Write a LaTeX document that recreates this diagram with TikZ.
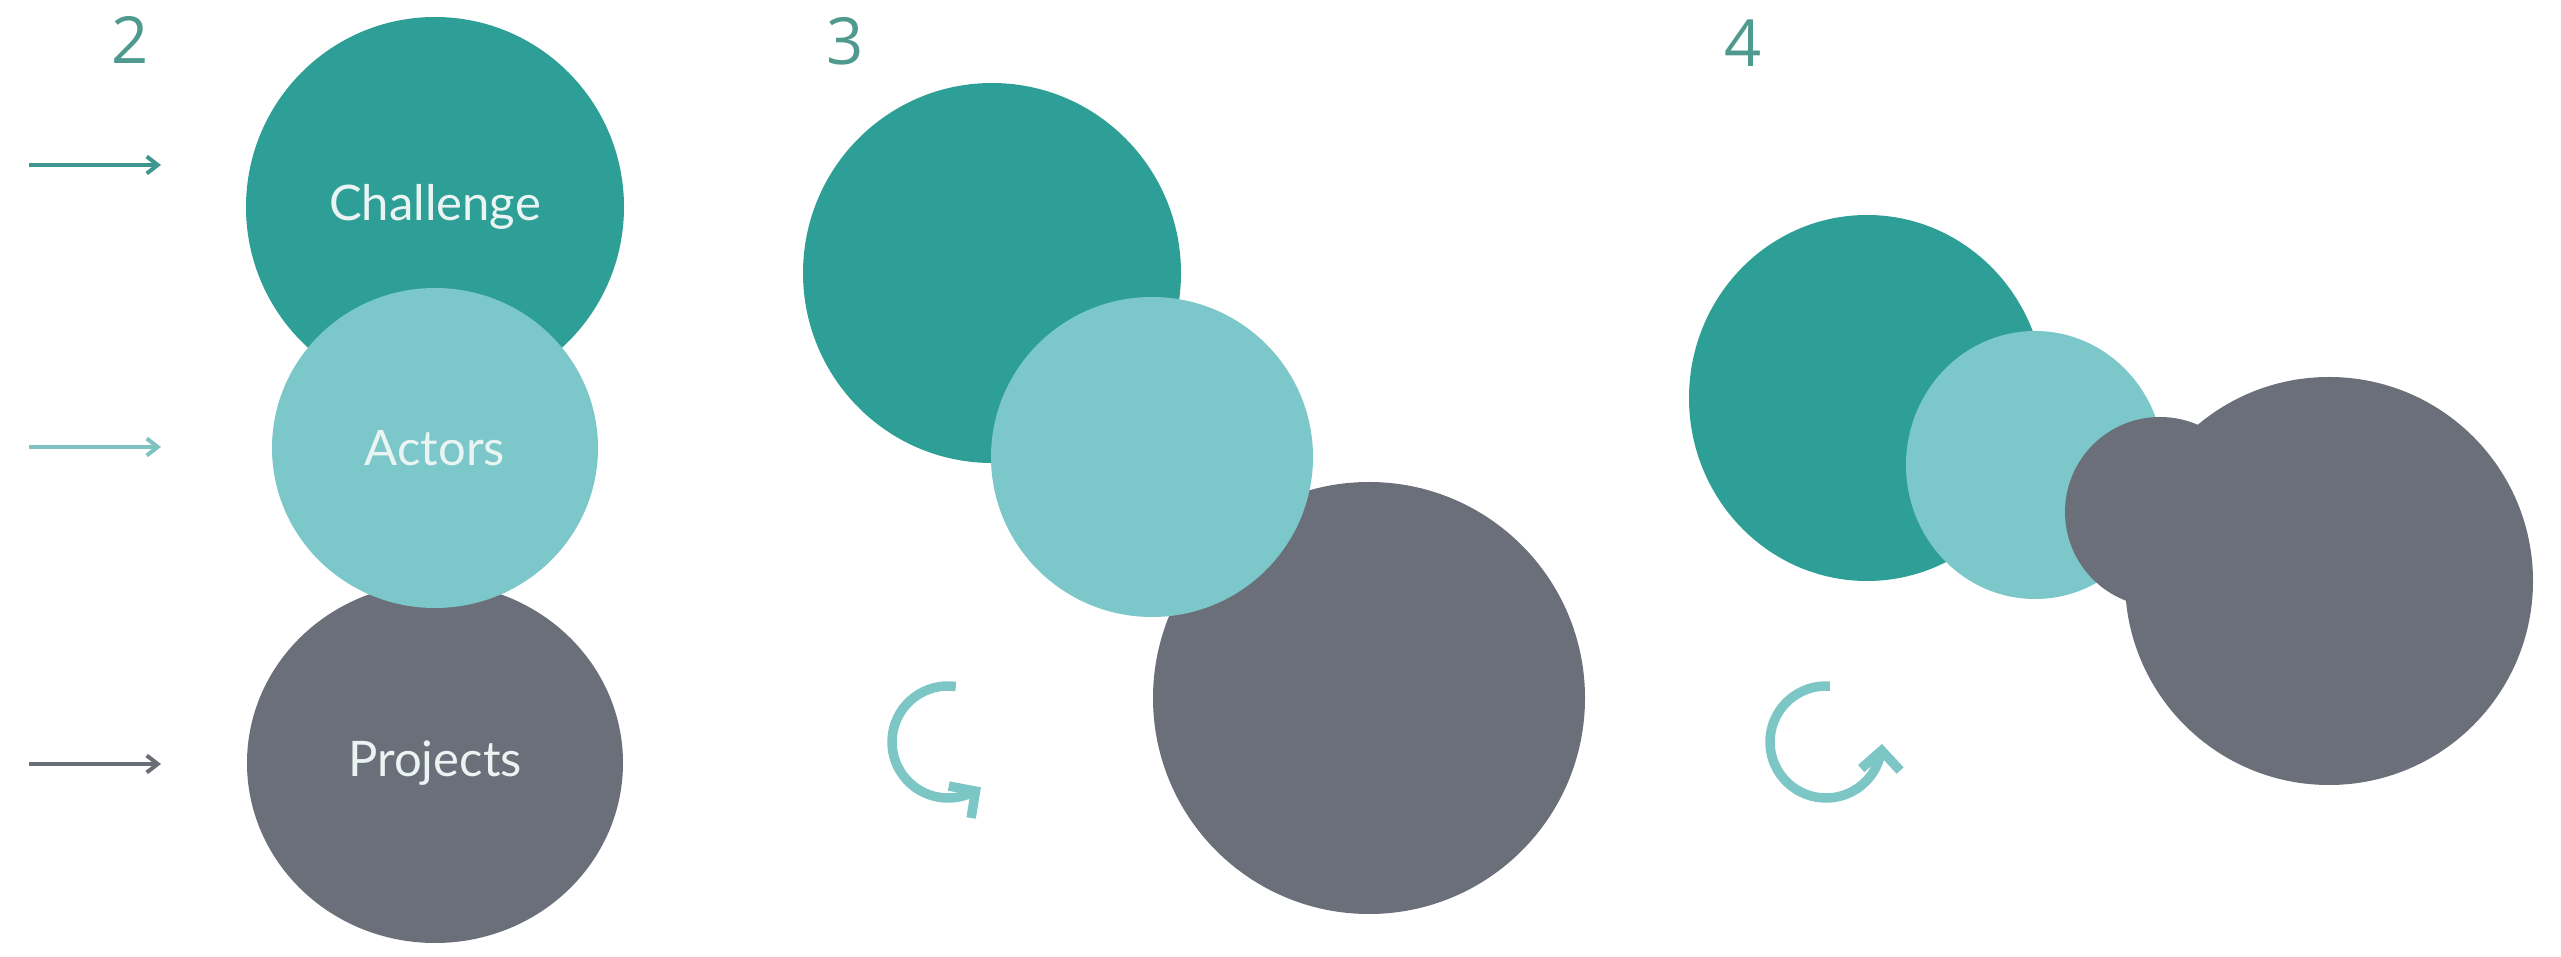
\documentclass[tikz,border=0pt]{standalone}
\usepackage{fontspec}
\setmainfont{Lato}
\newfontfamily\numfont{Open Sans}
\usetikzlibrary{shapes.geometric,arrows.meta,bending}
\definecolor{tealA}{HTML}{2E9F96}
\definecolor{tealB}{HTML}{7BC7C9}
\definecolor{grayC}{HTML}{6B6F79}
\definecolor{numc}{HTML}{4E9A8E}
\definecolor{arrA}{HTML}{3E968E}
\definecolor{arrB}{HTML}{7EC2C2}
\definecolor{arrC}{HTML}{6A6E76}
\definecolor{turnc}{HTML}{7CC6C6}
\definecolor{txt}{HTML}{EAF5F3}
\begin{document}
\begin{tikzpicture}[x=0.2pt,y=-0.2pt,
  blob/.style={ellipse, inner sep=0pt, outer sep=0pt, draw=none},
  lbl/.style={text=txt, font=\fontsize{9.8pt}{12pt}\selectfont},
  num/.style={text=numc, font=\numfont\fontsize{13pt}{15pt}\selectfont},
  ptr/.style={line width=0.8pt, -{Straight Barb[length=2.2pt,width=3.4pt]}},
  turn/.style={draw=turnc, line width=1.9pt, -{Straight Barb[length=3.8pt,width=7.8pt,flex]}}]
\useasboundingbox (0,0) rectangle (2561,957);

% numbers
\node[num] (n2) at (130,40) {2};
\node[num] (n3) at (845,41) {3};
\node[num] (n4) at (1743,43) {4};

% panel 2
\node[blob, fill=tealA, minimum width=75.6pt, minimum height=76pt, lbl] (ch2) at (435,207) {Challenge};
\node[blob, fill=grayC, minimum width=75.2pt, minimum height=72pt, lbl] (pr2) at (435,763) {Projects};
\node[blob, fill=tealB, minimum width=65.2pt, minimum height=64pt, lbl] (ac2) at (435,448) {Actors};

\coordinate (p1s) at (29,165);  \coordinate (p1e) at (161,165);
\coordinate (p2s) at (29,447);  \coordinate (p2e) at (161,447);
\coordinate (p3s) at (29,764);  \coordinate (p3e) at (161,764);
\draw[ptr, draw=arrA] (p1s) -- (p1e);
\draw[ptr, draw=arrB] (p2s) -- (p2e);
\draw[ptr, draw=arrC] (p3s) -- (p3e);

% panel 3
\node[blob, fill=tealA, minimum width=75.6pt, minimum height=76pt] (ch3) at (992,273) {};
\node[blob, fill=grayC, minimum width=86.4pt, minimum height=86.4pt] (pr3) at (1369,698) {};
\node[blob, fill=tealB, minimum width=64.4pt, minimum height=64pt] (ac3) at (1152,457) {};

\coordinate (r3) at (948,742);
\draw[turn] ([shift={(82:11.2pt)}]r3) arc[start angle=82, end angle=306, radius=11.2pt];

% panel 4
\node[blob, fill=tealA, minimum width=71.2pt, minimum height=73.2pt] (ch4) at (1867,398) {};
\node[blob, fill=tealB, minimum width=51.6pt, minimum height=53.6pt] (ac4) at (2035,465) {};
\node[blob, fill=grayC, minimum width=81.6pt, minimum height=81.6pt] (pr4) at (2329,581) {};
\node[blob, fill=grayC, minimum width=38pt, minimum height=38pt] (pr4b) at (2160,512) {};

\coordinate (r4) at (1826,742);
\draw[turn] ([shift={(86:11.2pt)}]r4) arc[start angle=86, end angle=358, radius=11.2pt];
\end{tikzpicture}
\end{document}
